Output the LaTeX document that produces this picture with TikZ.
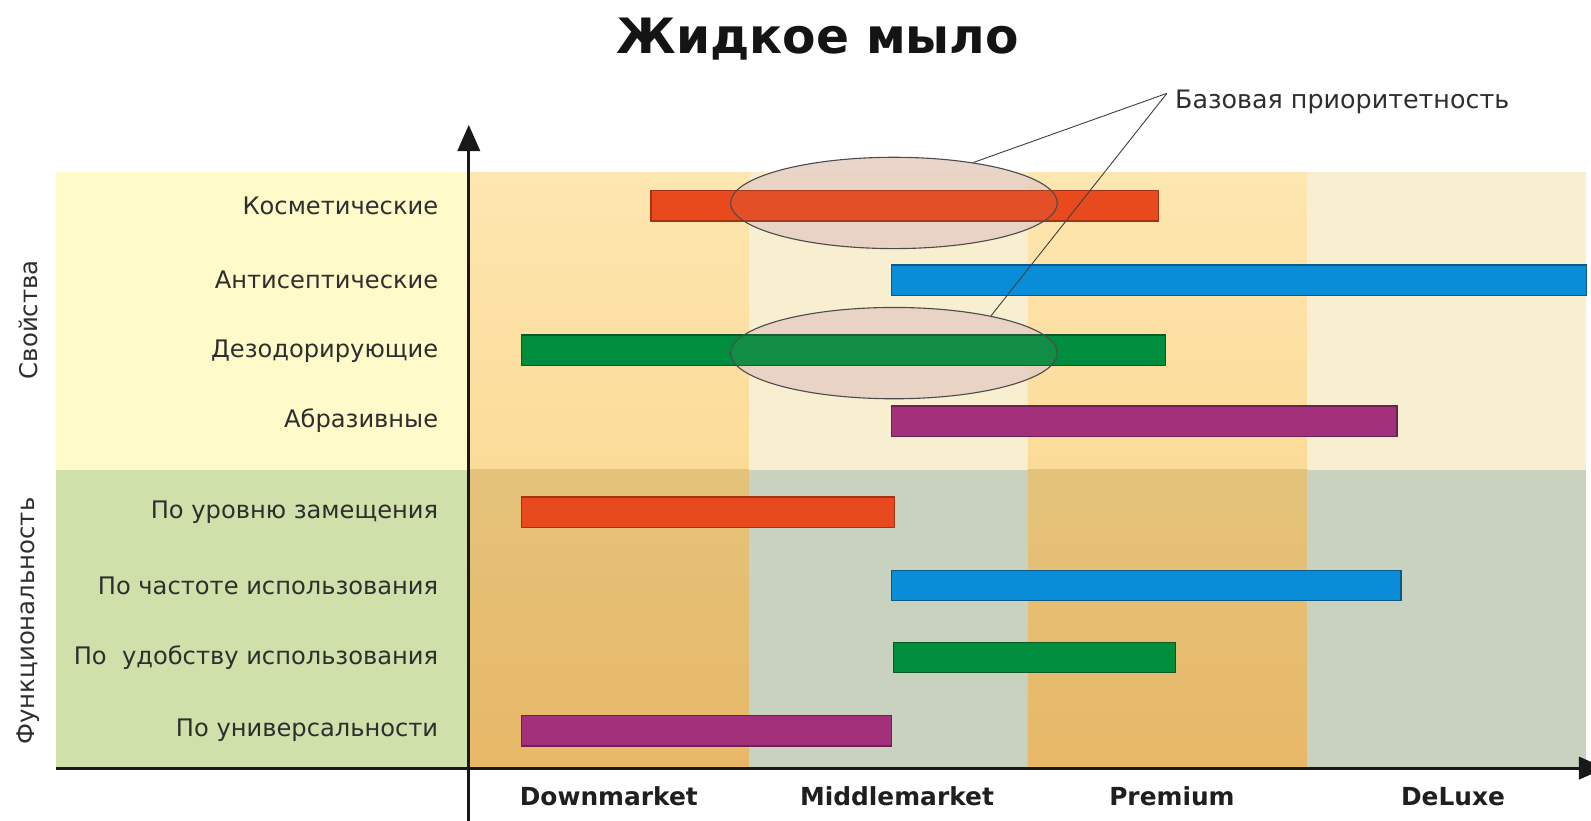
\documentclass[tikz,border=0pt]{standalone}
\usepackage{fontspec}
\setmainfont{DejaVu Sans}
\usetikzlibrary{arrows.meta,shapes.geometric}

% band colours
\definecolor{propLabel}{HTML}{FEFAC9}
\definecolor{propOrangeTop}{HTML}{FDE6B0}
\definecolor{propOrangeBot}{HTML}{FCDB98}
\definecolor{propPale}{HTML}{F7EFD0}
\definecolor{funcLabel}{HTML}{CFE0AA}
\definecolor{funcOrangeTop}{HTML}{E4C27A}
\definecolor{funcOrangeBot}{HTML}{E8B868}
\definecolor{funcGrey}{HTML}{C9D2BE}
% bar colours
\definecolor{barRed}{HTML}{E94A1D}
\definecolor{barRedLine}{HTML}{A53212}
\definecolor{barBlue}{HTML}{0A8DD8}
\definecolor{barBlueLine}{HTML}{0B5A8A}
\definecolor{barGreen}{HTML}{008E3E}
\definecolor{barGreenLine}{HTML}{0B5A26}
\definecolor{barPurple}{HTML}{A2307B}
\definecolor{barPurpleLine}{HTML}{6E2055}
\definecolor{txt}{HTML}{2E2E2E}
\definecolor{ovalBack}{HTML}{EFD9C9}
\definecolor{ovalTint}{HTML}{B08890}

\tikzset{
  bar/.style={draw=#1Line, fill=#1, line width=1.4pt, minimum height=30pt,
    inner sep=0pt, anchor=west},
  rowlabel/.style={anchor=east, text=txt, font=\fontsize{23.8}{28}\selectfont, inner sep=0pt},
  sidelabel/.style={rotate=90, text=txt, font=\fontsize{24}{28}\selectfont, inner sep=0pt},
  segment/.style={text=black!88, font=\bfseries\fontsize{24.5}{28}\selectfont, inner sep=0pt},
  axis/.style={line width=3pt, draw=black!90, -{Triangle[width=22pt,length=26pt]}},
  ovalshape/.style={ellipse, minimum width=322pt, minimum height=90pt, inner sep=0pt},
  ovalback/.style={ovalshape, fill=ovalBack, fill opacity=0.85},
  oval/.style={ovalshape, draw=black!70, line width=1.1pt, fill=ovalTint, fill opacity=0.1},
  callout/.style={draw=black!75, line width=0.9pt},
}

\begin{document}
\begin{tikzpicture}[x=1pt,y=-1pt]
\useasboundingbox (0,0) rectangle (1568,809);

% upper band: properties
\fill[propLabel] (55,170) rectangle (462,463);
\shade[top color=propOrangeTop, bottom color=propOrangeBot] (462,170) rectangle (738,463);
\fill[propPale] (738,170) rectangle (1013,463);
\shade[top color=propOrangeTop, bottom color=propOrangeBot] (1013,170) rectangle (1288,463);
\fill[propPale] (1288,170) rectangle (1563,463);

% lower band: functionality
\fill[funcLabel] (55,463) rectangle (462,757);
\shade[top color=funcOrangeTop, bottom color=funcOrangeBot] (462,463) rectangle (738,757);
\fill[funcGrey] (738,463) rectangle (1013,757);
\shade[top color=funcOrangeTop, bottom color=funcOrangeBot] (1013,463) rectangle (1288,757);
\fill[funcGrey] (1288,463) rectangle (1563,757);

% title
\node[font=\bfseries\fontsize{48}{52}\selectfont, text=black!92] (title) at (806,39) {Жидкое мыло};

% side labels
\node[sidelabel] (props) at (28,315) {Свойства};
\node[sidelabel] (funcs) at (28,612) {Функциональность};

% row labels
\node[rowlabel] (l1) at (432,203) {Косметические};
\node[rowlabel] (l2) at (432,276) {Антисептические};
\node[rowlabel] (l3) at (432,346) {Дезодорирующие};
\node[rowlabel] (l4) at (432,415) {Абразивные};
\node[rowlabel] (l5) at (432,505) {По уровню замещения};
\node[rowlabel] (l6) at (432,577) {По частоте использования};
\node[rowlabel] (l7) at (432,648) {По\ \ удобству использования};
\node[rowlabel] (l8) at (432,720) {По универсальности};

% tinted backs of the highlighted ranges
\node[ovalback] (e1back) at (881,200) {};
\node[ovalback] (e2back) at (881,348) {};

% bars
\node[bar=barRed,    minimum width=500pt] (b1) at (641,203) {};
\node[bar=barBlue,   minimum width=685pt] (b2) at (878,276) {};
\node[bar=barGreen,  minimum width=635pt] (b3) at (513,345) {};
\node[bar=barPurple, minimum width=498pt] (b4) at (878,415) {};
\node[bar=barRed,    minimum width=368pt] (b5) at (513,505) {};
\node[bar=barBlue,   minimum width=502pt] (b6) at (878,577) {};
\node[bar=barGreen,  minimum width=278pt] (b7) at (880,648) {};
\node[bar=barPurple, minimum width=365pt] (b8) at (513,720) {};

% highlighted ranges
\node[oval] (e1) at (881,200) {};
\node[oval] (e2) at (881,348) {};

% callout
\node[anchor=west, text=txt, font=\fontsize{25}{29}\selectfont, inner sep=0pt] (base) at (1158,100) {Базовая приоритетность};
\coordinate (tip) at (1150,92);
\draw[callout] (tip) -- (e1.27);
\draw[callout] (tip) -- (e2.21);

% axes
\coordinate (xstart) at (55,757);
\coordinate (xend) at (1582,757);
\coordinate (ystart) at (462,809);
\coordinate (yend) at (462,123);
\draw[axis] (xstart) -- (xend);
\draw[axis] (ystart) -- (yend);

% segment names
\node[segment] (s1) at (600,785) {Downmarket};
\node[segment] (s2) at (884,785) {Middlemarket};
\node[segment] (s3) at (1155,785) {Premium};
\node[segment] (s4) at (1432,785) {DeLuxe};
\end{tikzpicture}
\end{document}
